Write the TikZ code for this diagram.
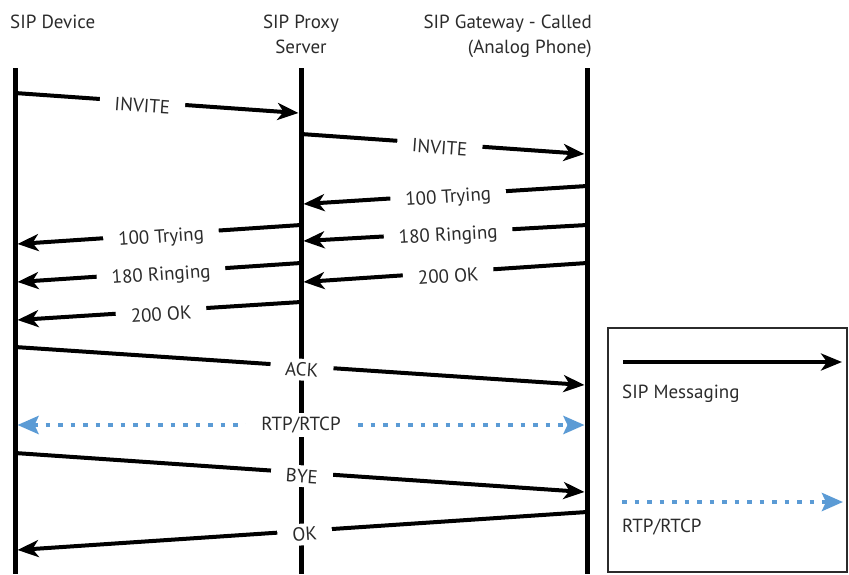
\documentclass[tikz,border=0pt]{standalone}
\usepackage{fontspec}
\setmainfont{PT Sans}
\usetikzlibrary{arrows.meta}
\definecolor{txt}{HTML}{2B2B2B}
\definecolor{rtp}{HTML}{5B9BD5}
\tikzset{mediatip/.tip={Stealth[length=21pt,width=18pt,inset=4pt]}}
\begin{document}
\begin{tikzpicture}[x=1pt,y=-1pt,
  life/.style={line width=5pt},
  msg/.style={line width=4pt,-{Stealth[length=21pt,width=17pt,inset=6pt]}},
  mediadots/.style={line width=4.5pt,rtp,dash pattern=on 4.5pt off 8pt},
  lbl/.style={fill=white,text=txt,font=\fontsize{19}{25}\selectfont,inner xsep=15pt,inner ysep=4pt,sloped,yshift=-3.5pt},
  hdr/.style={text=txt,font=\fontsize{19}{25}\selectfont,inner sep=0pt}
]
\useasboundingbox (0,0) rectangle (849,574);
% headers
\node[hdr,anchor=base west] (hdev) at (10,28) {SIP Device};
\node[hdr,anchor=base,align=center] (hprx) at (301,53) {SIP Proxy\\Server};
\node[hdr,anchor=base east,align=right] (hgw) at (592,53) {SIP Gateway - Called\\(Analog Phone)};
% lifelines
\coordinate (devT) at (15,68);  \coordinate (devB) at (15,574);
\coordinate (prxT) at (301,68); \coordinate (prxB) at (301,574);
\coordinate (gwT)  at (587,68); \coordinate (gwB)  at (587,574);
\draw[life] (devT) -- (devB);
\draw[life] (prxT) -- (prxB);
\draw[life] (gwT) -- (gwB);
% message end points
\coordinate (m1a) at (15,93);    \coordinate (m1b) at (298.5,113);
\coordinate (m2a) at (301,134);  \coordinate (m2b) at (584.5,154);
\coordinate (m3a) at (587,186);  \coordinate (m3b) at (303.5,204);
\coordinate (m4a) at (301,225);  \coordinate (m4b) at (17.5,244);
\coordinate (m5a) at (587,225);  \coordinate (m5b) at (303.5,241);
\coordinate (m6a) at (301,263);  \coordinate (m6b) at (17.5,282);
\coordinate (m7a) at (587,263);  \coordinate (m7b) at (303.5,282);
\coordinate (m8a) at (301,302);  \coordinate (m8b) at (17.5,320);
\coordinate (m9a) at (15,347);   \coordinate (m9b) at (584.5,385);
\coordinate (r1a) at (17.5,425); \coordinate (r1b) at (584.5,425);
\coordinate (m11a) at (15,453);  \coordinate (m11b) at (584.5,492);
\coordinate (m12a) at (587,512); \coordinate (m12b) at (17.5,550);
% messages
\draw[msg] (m1a) -- node[lbl,pos=.45] (t1) {INVITE} (m1b);
\draw[msg] (m2a) -- node[lbl,pos=.49] (t2) {INVITE} (m2b);
\draw[msg] (m3a) -- node[lbl,pos=.49] (t3) {100 Trying} (m3b);
\draw[msg] (m4a) -- node[lbl,pos=.494] (t4) {100 Trying} (m4b);
\draw[msg] (m5a) -- node[lbl,pos=.49] (t5) {180 Ringing} (m5b);
\draw[msg] (m6a) -- node[lbl,pos=.494] (t6) {180 Ringing} (m6b);
\draw[msg] (m7a) -- node[lbl,pos=.49] (t7) {200 OK} (m7b);
\draw[msg] (m8a) -- node[lbl,pos=.494] (t8) {200 OK} (m8b);
\draw[msg] (m9a) -- node[lbl,pos=.504] (t9) {ACK} (m9b);
\draw[mediadots,mediatip-mediatip] (r1a) -- node[lbl,pos=.5,yshift=3.5pt] (t10) {RTP/RTCP} (r1b);
\draw[msg] (m11a) -- node[lbl,pos=.504] (t11) {BYE} (m11b);
\draw[msg] (m12a) -- node[lbl,pos=.496] (t12) {OK} (m12b);
% legend
\node[draw=txt,line width=1.5pt,minimum width=239pt,minimum height=244pt,anchor=north west,inner sep=0pt] (legend) at (607,327) {};
\coordinate (la1) at (623,362); \coordinate (lb1) at (842,362);
\draw[msg] (la1) -- (lb1);
\node[hdr,anchor=base west] (lt1) at (622,398) {SIP Messaging};
\coordinate (la2) at (622,502); \coordinate (lb2) at (843,502);
\draw[mediadots,-mediatip] (la2) -- (lb2);
\node[hdr,anchor=base west] (lt2) at (622,532) {RTP/RTCP};
\end{tikzpicture}
\end{document}
